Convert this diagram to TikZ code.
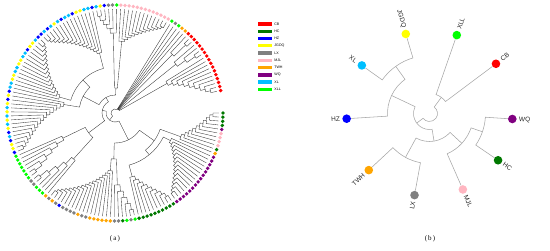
\documentclass[tikz,border=0pt]{standalone}
\usepackage{fontspec}
\setmainfont{Liberation Serif}
\newfontfamily\labfont{Liberation Sans}
\usetikzlibrary{positioning}

% Colours of the ten groups
\definecolor{cR}{HTML}{FF0000}
\definecolor{cG}{HTML}{007800}
\definecolor{cB}{HTML}{0000FF}
\definecolor{cY}{HTML}{FFFF00}
\definecolor{cX}{HTML}{808080}
\definecolor{cP}{HTML}{FFB6C1}
\definecolor{cO}{HTML}{FFA500}
\definecolor{cW}{HTML}{800080}
\definecolor{cL}{HTML}{00BFFF}
\definecolor{cE}{HTML}{00FF00}

% Angle of leaf number #1 in the big tree
\newcommand{\leafang}[1]{12+2.20253*(#1)}
\def\rleaf{104}

% Store angle and radius of an inner node
\newcommand{\setnode}[3]{%
  \expandafter\xdef\csname nda#1\endcsname{#2}%
  \expandafter\xdef\csname ndr#1\endcsname{#3}}
\newcommand{\leafat}[2]{\pgfmathsetmacro{\lth}{\leafang{#1}}\setnode{#2}{\lth}{\rleaf}}

% Comb clade, nested toward the last leaf
\newcommand{\combA}[5]{%
  \pgfmathsetmacro{\cphi}{\leafang{#2}}\xdef\cphi{\cphi}\xdef\crho{\rleaf}%
  \pgfmathtruncatemacro{\cfrom}{#2-1}%
  \foreach \kk in {\cfrom,...,#1}{%
    \pgfmathsetmacro{\cth}{\leafang{\kk}}%
    \pgfmathsetmacro{\crh}{#3+(#4-#3)*(\kk-#1)/max(1,#2-1-#1)}%
    \draw[branch] (\cth:\rleaf) -- (\cth:\crh) arc[start angle=\cth, end angle=\cphi, radius=\crh] -- (\cphi:\crho);
    \pgfmathsetmacro{\nphi}{(\cth+\cphi)/2}\xdef\cphi{\nphi}\xdef\crho{\crh}%
  }%
  \setnode{#5}{\cphi}{\crho}}

% Comb clade, nested toward the first leaf
\newcommand{\combB}[5]{%
  \pgfmathsetmacro{\cphi}{\leafang{#1}}\xdef\cphi{\cphi}\xdef\crho{\rleaf}%
  \pgfmathtruncatemacro{\cfrom}{#1+1}%
  \foreach \kk in {\cfrom,...,#2}{%
    \pgfmathsetmacro{\cth}{\leafang{\kk}}%
    \pgfmathsetmacro{\crh}{#4+(#3-#4)*(\kk-#1-1)/max(1,#2-#1-1)}%
    \draw[branch] (\cth:\rleaf) -- (\cth:\crh) arc[start angle=\cth, end angle=\cphi, radius=\crh] -- (\cphi:\crho);
    \pgfmathsetmacro{\nphi}{(\cth+\cphi)/2}\xdef\cphi{\nphi}\xdef\crho{\crh}%
  }%
  \setnode{#5}{\cphi}{\crho}}

% Join two stored nodes at radius #3
\newcommand{\joinat}[4]{%
  \edef\ja{\csname nda#1\endcsname}\edef\jra{\csname ndr#1\endcsname}%
  \edef\jb{\csname nda#2\endcsname}\edef\jrb{\csname ndr#2\endcsname}%
  \draw[branch] (\ja:\jra) -- (\ja:#3) arc[start angle=\ja, end angle=\jb, radius=#3] -- (\jb:\jrb);
  \pgfmathsetmacro{\jm}{(\ja+\jb)/2}%
  \setnode{#4}{\jm}{#3}}

\begin{document}
\begin{tikzpicture}[x=1pt, y=1pt,
    branch/.style={draw=black!80, line width=0.35pt},
    leafdot/.style={circle, inner sep=0pt, minimum size=3.8pt},
    legbar/.style={inner sep=0pt, minimum width=14pt, minimum height=3.4pt},
    legtext/.style={inner sep=0pt, font=\labfont\fontsize{3.6}{4}\selectfont},
    bdot/.style={circle, inner sep=0pt, minimum size=8.6pt},
    blab/.style={inner sep=0pt, text=black!85, font=\labfont\fontsize{6.5}{7}\selectfont},
    caption/.style={font=\fontsize{7}{8}\selectfont}]
  \useasboundingbox (0,0) rectangle (550,251);

  % (a) the big circular tree
  \begin{scope}[shift={(115,138)}]
    % fan of the CB group
    \combB{0}{9}{60}{98}{ra}
    \combB{10}{13}{78}{98}{rb}
    \combB{14}{16}{82}{98}{rc}
    \leafat{17}{oa}\leafat{18}{ob}\leafat{19}{ea}\leafat{20}{xa}\leafat{21}{eb}
    \joinat{ra}{rb}{5}{fa}
    \joinat{fa}{rc}{5}{fb}
    \joinat{fb}{oa}{5}{fc}
    \joinat{fc}{ob}{5}{fd}
    \joinat{fd}{ea}{5}{fe}
    \joinat{fe}{xa}{5}{ff}
    \joinat{ff}{eb}{5}{fan}
    % top clade
    \combB{22}{34}{72}{98}{pk}
    \combA{35}{40}{80}{98}{qq}
    \joinat{pk}{qq}{25}{top}
    % left clade
    \combA{41}{55}{62}{98}{lfa}
    \combB{56}{70}{58}{98}{lfb}
    \combA{71}{86}{52}{98}{lfc}
    \joinat{lfa}{lfb}{46}{lfab}
    \joinat{lfab}{lfc}{36}{left}
    \joinat{top}{left}{18}{cc}
    % lower left clade
    \combA{87}{93}{58}{98}{ga}
    \combB{94}{99}{62}{98}{gb}
    \joinat{ga}{gb}{33}{lowl}
    % bottom clade
    \combB{100}{116}{58}{98}{ba}
    \combA{117}{122}{72}{98}{bb}
    \joinat{ba}{bb}{46}{bot}
    % lower right clade
    \combA{123}{132}{66}{98}{ha}
    \combB{133}{147}{62}{98}{wa}
    \combA{148}{158}{70}{98}{hb}
    \joinat{ha}{wa}{54}{hw}
    \joinat{hw}{hb}{48}{lowr}
    \joinat{bot}{lowr}{30}{under}
    % inner joins
    \joinat{cc}{lowl}{13}{mida}
    \joinat{mida}{under}{9}{midb}
    \joinat{fan}{midb}{4}{rootA}
    % leaf dots
    \foreach \c [count=\i from 0] in {R,R,R,R,R,R,R,R,R,R,R,R,R,R,R,R,R,O,O,E,X,E,
        P,P,P,P,P,P,P,P,P,P,P,P,P,E,X,X,B,Y,L,
        B,L,L,Y,Y,B,L,L,B,L,Y,L,B,L,B,
        B,L,Y,Y,B,L,L,Y,Y,L,L,Y,Y,L,L,B,Y,B,
        Y,L,Y,L,Y,L,Y,B,L,B,Y,Y,B,
        E,E,E,E,E,E,E,X,X,E,E,E,O,
        X,O,X,B,X,X,X,X,O,X,X,O,O,O,O,O,O,
        X,X,G,E,X,E,G,G,G,G,G,G,G,G,G,G,
        W,W,W,W,W,W,W,W,W,W,W,W,W,W,W,O,G,P,P,P,P,W,G,G,G,G}
      \node[leafdot, fill=c\c] (a\i) at ({\leafang{\i}}:108) {};
  \end{scope}

  % legend
  \foreach \t/\c [count=\i from 0] in {CB/R, HC/G, HZ/B, JGDQ/Y, LX/X, MJL/P, TWH/O, WQ/W, XL/L, XLL/E} {
    \node[legbar, fill=c\c] (k\i) at (265,{227-7.26*\i}) {};
    \node[legtext, right=2pt of k\i] (t\i) {\t};
  }

  % (b) the group tree
  \begin{scope}[shift={(429.5,137.5)}, branch/.style={draw=black!35, line width=0.55pt}]
    \foreach \t/\a in {XLL/70.8, CB/36.8, WQ/-3.8, HC/-34.3, MJL/-66.3, LX/-100.4, TWH/-137, HZ/-176.4, XL/-215.4, JGDQ/-253.4}
      \setnode{b\t}{\a}{78.5};
    \joinat{bWQ}{bHC}{56}{bna}
    \joinat{bna}{bMJL}{44}{bnb}
    \joinat{bLX}{bTWH}{50}{bnc}
    \joinat{bnb}{bnc}{28}{bnd}
    \joinat{bXL}{bJGDQ}{58}{bne}
    \joinat{bHZ}{bne}{42}{bnf}
    \joinat{bnd}{bnf}{16}{bng}
    \joinat{bXLL}{bCB}{20}{bnh}
    \joinat{bnh}{bng}{8}{rootB}
    % dots and labels
    \foreach \t/\c/\a in {XLL/E/70.8, CB/R/36.8, WQ/W/-3.8, HC/G/-34.3, MJL/P/-66.3} {
      \node[bdot, fill=c\c] (d\t) at (\a:83) {};
      \node[blab, anchor=west, rotate=\a] (l\t) at (\a:89.5) {\t};
    }
    \foreach \t/\c/\a in {LX/X/259.6, TWH/O/223, HZ/B/183.6, XL/L/144.6, JGDQ/Y/106.6} {
      \node[bdot, fill=c\c] (d\t) at (\a:83) {};
      \node[blab, anchor=east, rotate=\a-180] (l\t) at (\a:89.5) {\t};
    }
  \end{scope}

  % captions
  \node[caption] (capa) at (115,12) {(\,a\,)};
  \node[caption] (capb) at (430,12) {(\,b\,)};
\end{tikzpicture}
\end{document}
